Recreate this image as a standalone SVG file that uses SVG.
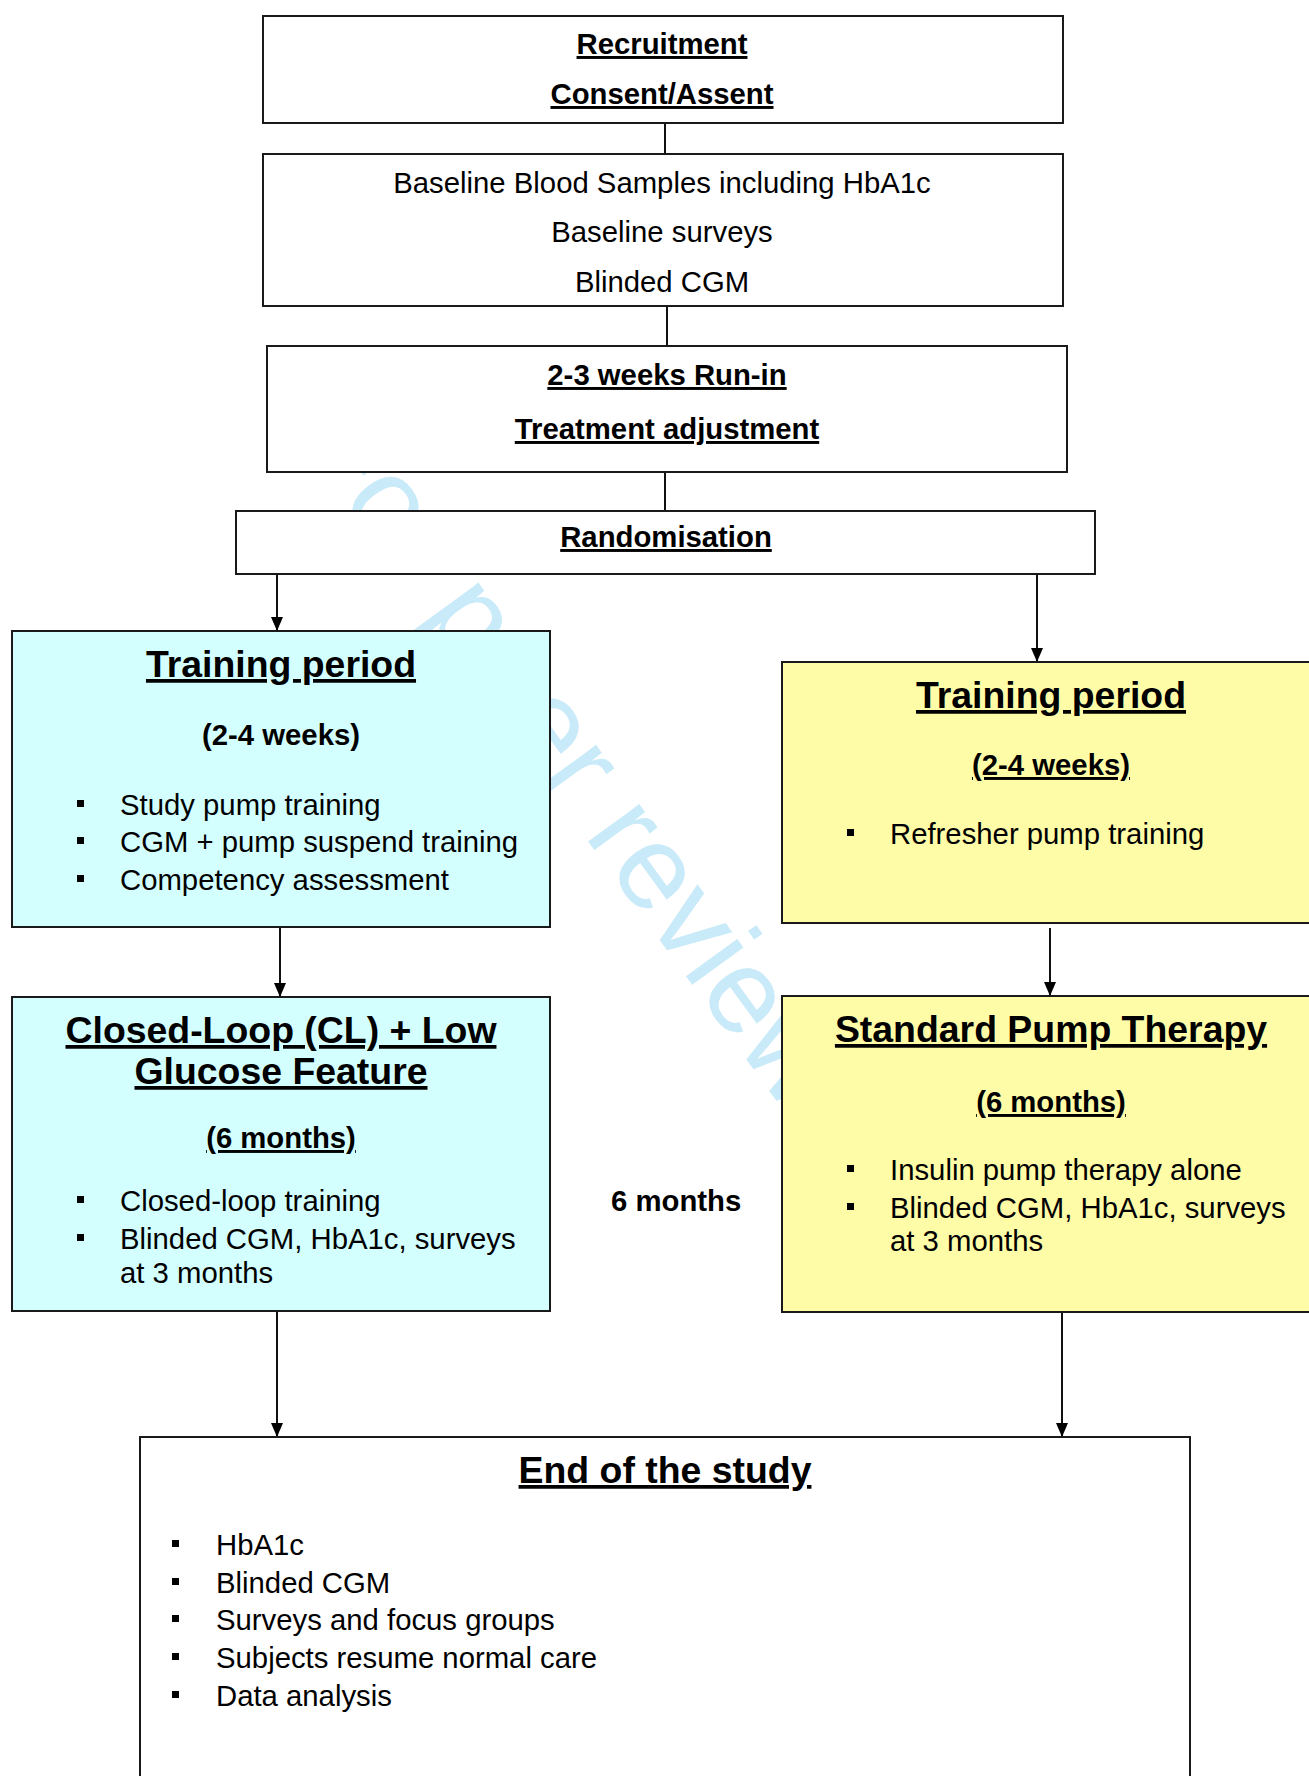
<svg xmlns="http://www.w3.org/2000/svg" width="1309" height="1776" viewBox="0 0 1309 1776">
<style>
text{font-family:"Liberation Sans",Arial,sans-serif;fill:#000}
.t{font-size:29.3px;font-weight:bold;text-anchor:middle}
.u{text-decoration:underline;text-decoration-skip-ink:none}
.h{font-size:37.4px;font-weight:bold;text-anchor:middle;text-decoration:underline;text-decoration-skip-ink:none}
.b{font-size:29.3px}
.c{font-size:29.3px;text-anchor:middle}
.box{stroke:#1a1a1a;stroke-width:2;fill:#fff}
.cy{fill:#d3ffff}
.ye{fill:#fffca8}
.ln{stroke:#111;stroke-width:2;fill:none}
.bl{fill:#000}
.wm{font-size:120px;fill:#c9eaf9}
</style>
<defs>
<marker id="arr" viewBox="0 0 14 12" markerWidth="14" markerHeight="12" refX="14" refY="6" orient="auto" markerUnits="userSpaceOnUse"><path d="M0,0 L14,6 L0,12 Z" fill="#000"/></marker>
</defs>
<rect width="1309" height="1776" fill="#fff"/>
<text class="wm" x="297" y="441" transform="rotate(54 297 441)">For peer review only</text>
<g id="connectors">
<line class="ln" x1="665" y1="123" x2="665" y2="154"/>
<line class="ln" x1="667" y1="306" x2="667" y2="346"/>
<line class="ln" x1="665" y1="472" x2="665" y2="511"/>
<line class="ln" x1="277" y1="574" x2="277" y2="631" marker-end="url(#arr)"/>
<line class="ln" x1="1037" y1="574" x2="1037" y2="662" marker-end="url(#arr)"/>
<line class="ln" x1="280" y1="927" x2="280" y2="997" marker-end="url(#arr)"/>
<line class="ln" x1="1050" y1="928" x2="1050" y2="996" marker-end="url(#arr)"/>
<line class="ln" x1="277" y1="1311" x2="277" y2="1437" marker-end="url(#arr)"/>
<line class="ln" x1="1062" y1="1312" x2="1062" y2="1437" marker-end="url(#arr)"/>
</g>
<g id="recruitment">
<rect class="box" x="263" y="16" width="800" height="107"/>
<text class="t u" x="662" y="54">Recruitment</text>
<text class="t u" x="662" y="104">Consent/Assent</text>
</g>
<g id="baseline">
<rect class="box" x="263" y="154" width="800" height="152"/>
<text class="c" x="662" y="193">Baseline Blood Samples including HbA1c</text>
<text class="c" x="662" y="242">Baseline surveys</text>
<text class="c" x="662" y="292">Blinded CGM</text>
</g>
<g id="runin">
<rect class="box" x="267" y="346" width="800" height="126"/>
<text class="t u" x="667" y="385">2-3 weeks Run-in</text>
<text class="t u" x="667" y="439">Treatment adjustment</text>
</g>
<g id="randomisation">
<rect class="box" x="236" y="511" width="859" height="63"/>
<text class="t u" x="666" y="547">Randomisation</text>
</g>
<g id="training-left">
<rect class="box cy" x="12" y="631" width="538" height="296"/>
<text class="h" x="281" y="677">Training period</text>
<text class="t" x="281" y="745">(2-4 weeks)</text>
<rect class="bl" x="77" y="800" width="7" height="7"/>
<text class="b" x="120" y="815">Study pump training</text>
<rect class="bl" x="77" y="837" width="7" height="7"/>
<text class="b" x="120" y="852">CGM + pump suspend training</text>
<rect class="bl" x="77" y="875" width="7" height="7"/>
<text class="b" x="120" y="890">Competency assessment</text>
</g>
<g id="training-right">
<rect class="box ye" x="782" y="662" width="540" height="261"/>
<text class="h" x="1051" y="708">Training period</text>
<text class="t u" x="1051" y="775">(2-4 weeks)</text>
<rect class="bl" x="847" y="829" width="7" height="7"/>
<text class="b" x="890" y="844">Refresher pump training</text>
</g>
<g id="closed-loop">
<rect class="box cy" x="12" y="997" width="538" height="314"/>
<text class="h" x="281" y="1043">Closed-Loop (CL) + Low</text>
<text class="h" x="281" y="1084">Glucose Feature</text>
<text class="t u" x="281" y="1148">(6 months)</text>
<rect class="bl" x="77" y="1196" width="7" height="7"/>
<text class="b" x="120" y="1211">Closed-loop training</text>
<rect class="bl" x="77" y="1234" width="7" height="7"/>
<text class="b" x="120" y="1249">Blinded CGM, HbA1c, surveys</text>
<text class="b" x="120" y="1283">at 3 months</text>
</g>
<g id="standard">
<rect class="box ye" x="782" y="996" width="540" height="316"/>
<text class="h" x="1051" y="1042">Standard Pump Therapy</text>
<text class="t u" x="1051" y="1112">(6 months)</text>
<rect class="bl" x="847" y="1165" width="7" height="7"/>
<text class="b" x="890" y="1180">Insulin pump therapy alone</text>
<rect class="bl" x="847" y="1203" width="7" height="7"/>
<text class="b" x="890" y="1218">Blinded CGM, HbA1c, surveys</text>
<text class="b" x="890" y="1251">at 3 months</text>
</g>
<g id="six-months-label">
<text class="b" x="611" y="1211" font-weight="bold">6 months</text>
</g>
<g id="end">
<rect class="box" x="140" y="1437" width="1050" height="360"/>
<text class="h" x="665" y="1483">End of the study</text>
<rect class="bl" x="172" y="1540" width="7" height="7"/>
<text class="b" x="216" y="1555">HbA1c</text>
<rect class="bl" x="172" y="1578" width="7" height="7"/>
<text class="b" x="216" y="1593">Blinded CGM</text>
<rect class="bl" x="172" y="1615" width="7" height="7"/>
<text class="b" x="216" y="1630">Surveys and focus groups</text>
<rect class="bl" x="172" y="1653" width="7" height="7"/>
<text class="b" x="216" y="1668">Subjects resume normal care</text>
<rect class="bl" x="172" y="1691" width="7" height="7"/>
<text class="b" x="216" y="1706">Data analysis</text>
</g>
</svg>
